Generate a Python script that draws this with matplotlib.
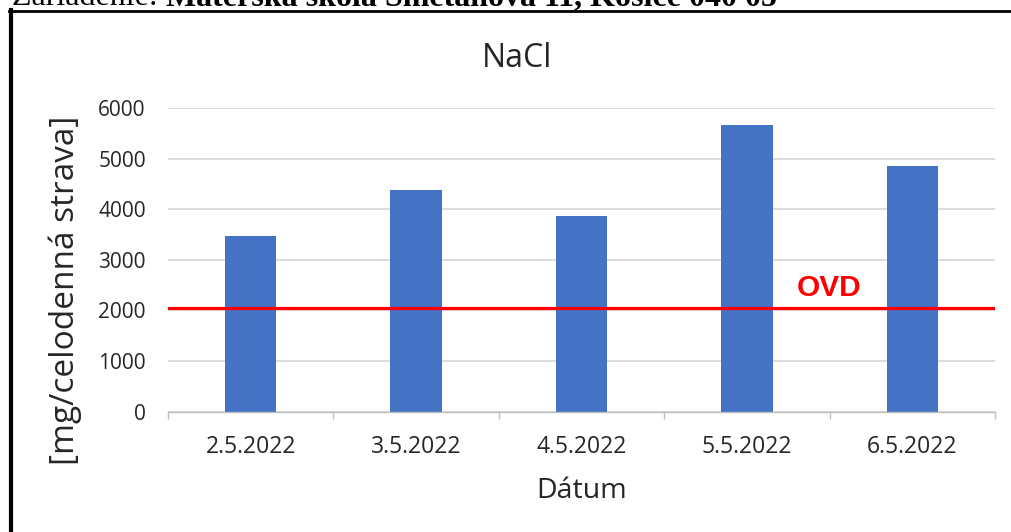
import matplotlib
matplotlib.use("Agg")
import matplotlib.pyplot as plt
import numpy as np

# data
datumy = ["2.5.2022", "3.5.2022", "4.5.2022", "5.5.2022", "6.5.2022"]
nacl = [3470, 4390, 3870, 5660, 4860]
ovd = 2050
y_ticks = [0, 1000, 2000, 3000, 4000, 5000, 6000]

plt.rcParams['font.family'] = ['Open Sans', 'DejaVu Sans']

fig = plt.figure(figsize=(10.11, 5.32), dpi=100)
ax = fig.add_axes([168 / 1011, 1 - 411.5 / 532, 827 / 1011, 303.2 / 532])

x = np.arange(len(datumy))
ax.bar(x, nacl, width=0.31, color="#4472C4", zorder=2)
ax.axhline(ovd, color="#ff0000", lw=2.3, zorder=3)
ax.text(3.3, ovd + 230, "OVD", color="#ff0000", fontsize=21.5, fontweight="bold",
        family="Liberation Sans", ha="left", va="baseline")

ax.set_xlim(-0.5, len(datumy) - 0.5)
ax.set_ylim(0, 6000)
ax.set_yticks(y_ticks)
ax.set_yticklabels([str(v) for v in y_ticks])
ax.set_xticks(x)
ax.set_xticklabels(datumy)
ax.set_xticks(np.arange(-0.5, len(datumy)), minor=True)
ax.tick_params(axis="x", which="major", length=0, pad=17, labelsize=16.5, colors="#262626")
ax.tick_params(axis="x", which="minor", length=5, width=1, color="#bfbfbf")
ax.tick_params(axis="y", length=0, pad=16, labelsize=15, colors="#262626")

ax.grid(axis="y", color="#d9d9d9", lw=1.3, zorder=0)
for s in ["top", "right", "left"]:
    ax.spines[s].set_visible(False)
ax.spines["bottom"].set_color("#bfbfbf")
ax.spines["bottom"].set_linewidth(1)

ax.set_title("NaCl", fontsize=23, color="#262626", pad=30, x=0.422)
ax.set_xlabel("Dátum", fontsize=20.5, color="#262626")
ax.xaxis.set_label_coords(0.5, -0.215)
ax.set_ylabel("[mg/celodenná strava]", fontsize=24, color="#262626")
ax.yaxis.set_label_coords(-0.104, 0.40)

# document frame and the cut-off heading above it
fig.add_artist(plt.Line2D([9 / 1011, 1], [1 - 11 / 532] * 2, color="black", lw=2,
                          transform=fig.transFigure))
fig.add_artist(plt.Line2D([10.5 / 1011] * 2, [0, 1 - 10 / 532], color="black", lw=3,
                          transform=fig.transFigure))
t1 = fig.text(12 / 1011, 1 - 5 / 532, "Zariadenie: ", family="Liberation Serif",
              fontsize=23, va="baseline", ha="left")
fig.canvas.draw()
bb = t1.get_window_extent()
fig.text(bb.x1 / 1011, 1 - 5 / 532, "Materská škola Smetanova 11, Košice 040 05",
         family="Liberation Serif", fontsize=23, fontweight="bold", va="baseline", ha="left")

fig.savefig("out.png", dpi=100)
